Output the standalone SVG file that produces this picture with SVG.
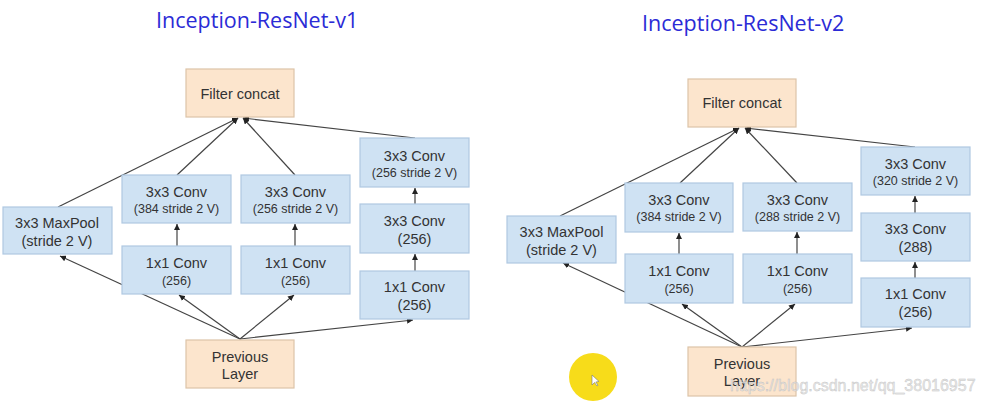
<svg xmlns="http://www.w3.org/2000/svg" width="982" height="405" viewBox="0 0 982 405">
<style>
.bx{fill:#cfe2f3;stroke:#b0c8e2;stroke-width:1.2}
.or{fill:#fce5cd;stroke:#dcc4a8;stroke-width:1.2}
.t{font-family:"Liberation Sans",Arial,sans-serif;fill:#333;text-anchor:middle}
.b{font-size:14.5px}
.s{font-size:12.5px}
.ttl{font-family:"Open Sans","Noto Sans",sans-serif;font-size:21.5px;fill:#2b2bd6}
.c line{stroke:#444;stroke-width:1.2;fill:none}
.a{marker-end:url(#ah)}
.wm{font-family:"Liberation Sans",Arial,sans-serif;font-size:16px;fill:#e6e6e6;stroke:#b8b8b8;stroke-width:0.4;opacity:0.85}
</style>
<defs>
<marker id="ah" viewBox="0 0 6 6" refX="6" refY="3" markerWidth="6" markerHeight="6" markerUnits="userSpaceOnUse" orient="auto">
<path d="M0,0 L6,3 L0,6 z" fill="#222"/>
</marker>
</defs>
<rect width="982" height="405" fill="#fff"/>
<text class="ttl" x="156" y="28">Inception-ResNet-v1</text>
<text class="ttl" x="642" y="31">Inception-ResNet-v2</text>

<!-- connectors v1 -->
<g id="connectors-v1" class="c">
<line x1="240" y1="339" x2="60" y2="256" class="a"/>
<line x1="240" y1="339" x2="179" y2="295" class="a"/>
<line x1="240" y1="339" x2="294" y2="295" class="a"/>
<line x1="240" y1="339" x2="413" y2="320" class="a"/>
<line x1="177" y1="246" x2="177" y2="224" class="a"/>
<line x1="295" y1="246" x2="295" y2="224" class="a"/>
<line x1="415" y1="271" x2="415" y2="254" class="a"/>
<line x1="415" y1="204" x2="415" y2="188" class="a"/>
<line x1="58" y1="207" x2="238" y2="118" class="a"/>
<line x1="177" y1="175" x2="238" y2="118" class="a"/>
<line x1="295" y1="175" x2="243" y2="118" class="a"/>
<line x1="415" y1="138" x2="243" y2="118" class="a"/>
</g>

<g id="v1-concat"><rect class="or" x="186" y="69" width="108" height="48"/><text class="t b" x="240" y="99">Filter concat</text></g>
<g id="v1-maxpool"><rect class="bx" x="3" y="207" width="109" height="47"/><text class="t b" x="57" y="228">3x3 MaxPool</text><text class="t b" x="57" y="246">(stride 2 V)</text></g>
<g id="v1-conv3a"><rect class="bx" x="122" y="175" width="109" height="48"/><text class="t b" x="176.5" y="197">3x3 Conv</text><text class="t s" x="176.5" y="213">(384 stride 2 V)</text></g>
<g id="v1-conv3b"><rect class="bx" x="241" y="175" width="109" height="48"/><text class="t b" x="295.5" y="197">3x3 Conv</text><text class="t s" x="295.5" y="213">(256 stride 2 V)</text></g>
<g id="v1-conv3c"><rect class="bx" x="360" y="138" width="109" height="49"/><text class="t b" x="414.5" y="161">3x3 Conv</text><text class="t s" x="414.5" y="177">(256 stride 2 V)</text></g>
<g id="v1-conv3d"><rect class="bx" x="360" y="204" width="109" height="49"/><text class="t b" x="414.5" y="226">3x3 Conv</text><text class="t b" x="414.5" y="244">(256)</text></g>
<g id="v1-conv1a"><rect class="bx" x="122" y="246" width="109" height="48"/><text class="t b" x="176.5" y="268">1x1 Conv</text><text class="t s" x="176.5" y="285">(256)</text></g>
<g id="v1-conv1b"><rect class="bx" x="241" y="246" width="109" height="48"/><text class="t b" x="295.5" y="268">1x1 Conv</text><text class="t s" x="295.5" y="285">(256)</text></g>
<g id="v1-conv1c"><rect class="bx" x="360" y="271" width="109" height="48"/><text class="t b" x="414.5" y="292">1x1 Conv</text><text class="t b" x="414.5" y="310">(256)</text></g>
<g id="v1-prev"><rect class="or" x="186" y="340" width="108" height="48"/><text class="t b" x="240" y="362">Previous</text><text class="t b" x="240" y="379">Layer</text></g>

<!-- connectors v2 -->
<g id="connectors-v2" class="c">
<line x1="742" y1="347" x2="563" y2="263" class="a"/>
<line x1="742" y1="347" x2="682" y2="304" class="a"/>
<line x1="742" y1="347" x2="795" y2="304" class="a"/>
<line x1="742" y1="347" x2="912" y2="328" class="a"/>
<line x1="679" y1="254" x2="679" y2="233" class="a"/>
<line x1="797" y1="254" x2="797" y2="232" class="a"/>
<line x1="915" y1="278" x2="915" y2="262" class="a"/>
<line x1="915" y1="213" x2="915" y2="196" class="a"/>
<line x1="560" y1="216" x2="739" y2="128" class="a"/>
<line x1="680" y1="183" x2="739" y2="128" class="a"/>
<line x1="797" y1="183" x2="745" y2="128" class="a"/>
<line x1="915" y1="147" x2="745" y2="128" class="a"/>
</g>

<g id="v2-concat"><rect class="or" x="688" y="79" width="108" height="48"/><text class="t b" x="742" y="108">Filter concat</text></g>
<g id="v2-maxpool"><rect class="bx" x="507" y="216" width="109" height="47"/><text class="t b" x="561.5" y="237">3x3 MaxPool</text><text class="t b" x="561.5" y="255">(stride 2 V)</text></g>
<g id="v2-conv3a"><rect class="bx" x="625" y="183" width="108" height="49"/><text class="t b" x="679" y="205">3x3 Conv</text><text class="t s" x="679" y="221">(384 stride 2 V)</text></g>
<g id="v2-conv3b"><rect class="bx" x="743" y="183" width="109" height="48"/><text class="t b" x="797.5" y="205">3x3 Conv</text><text class="t s" x="797.5" y="221">(288 stride 2 V)</text></g>
<g id="v2-conv3c"><rect class="bx" x="861" y="147" width="109" height="48"/><text class="t b" x="915.5" y="169">3x3 Conv</text><text class="t s" x="915.5" y="185">(320 stride 2 V)</text></g>
<g id="v2-conv3d"><rect class="bx" x="861" y="213" width="109" height="48"/><text class="t b" x="915.5" y="234">3x3 Conv</text><text class="t b" x="915.5" y="252">(288)</text></g>
<g id="v2-conv1a"><rect class="bx" x="625" y="254" width="108" height="49"/><text class="t b" x="679" y="276">1x1 Conv</text><text class="t s" x="679" y="293">(256)</text></g>
<g id="v2-conv1b"><rect class="bx" x="743" y="254" width="109" height="49"/><text class="t b" x="797.5" y="276">1x1 Conv</text><text class="t s" x="797.5" y="293">(256)</text></g>
<g id="v2-conv1c"><rect class="bx" x="861" y="278" width="109" height="49"/><text class="t b" x="915.5" y="299">1x1 Conv</text><text class="t b" x="915.5" y="317">(256)</text></g>
<g id="v2-prev"><rect class="or" x="688" y="347" width="108" height="49"/><text class="t b" x="742" y="369">Previous</text><text class="t b" x="742" y="386">Layer</text></g>

<circle cx="593" cy="377" r="24" fill="#f7dc1a"/>
<path d="M592,375 L592,385 L594.5,382.5 L597,386 L598,385.3 L595.8,382 L599,381.5 z" fill="#fff" stroke="#777" stroke-width="0.6"/>
<text class="wm" x="730" y="391">https://blog.csdn.net/qq_38016957</text>
</svg>
